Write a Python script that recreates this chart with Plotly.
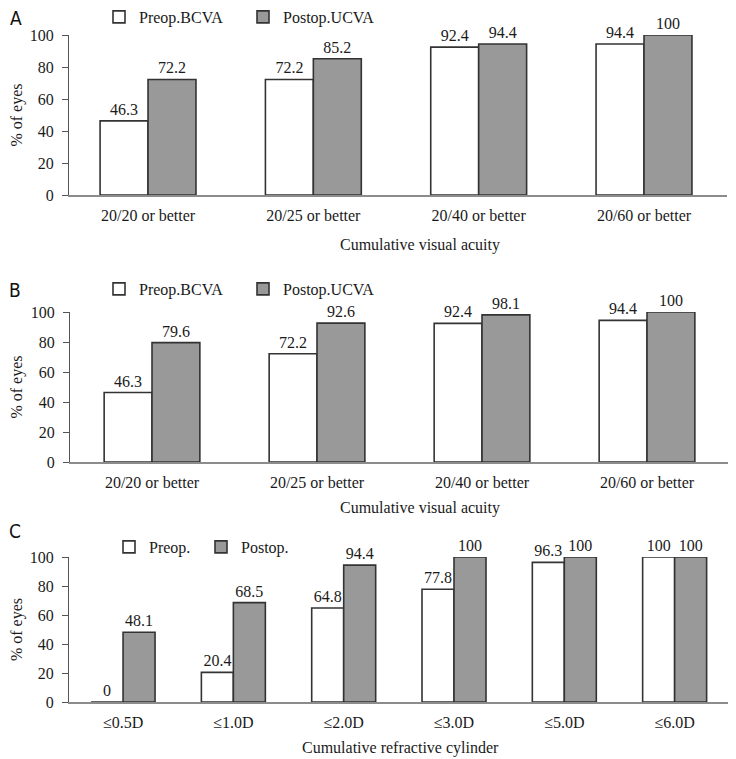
import plotly.graph_objects as go

# ---------------- data ----------------
cats_a = ["20/20 or better", "20/25 or better", "20/40 or better", "20/60 or better"]
preop_a = [46.3, 72.2, 92.4, 94.4]
postop_a = [72.2, 85.2, 94.4, 100]

cats_b = ["20/20 or better", "20/25 or better", "20/40 or better", "20/60 or better"]
preop_b = [46.3, 72.2, 92.4, 94.4]
postop_b = [79.6, 92.6, 98.1, 100]

cats_c = ["≤0.5D", "≤1.0D", "≤2.0D", "≤3.0D", "≤5.0D", "≤6.0D"]
preop_c = [0, 20.4, 64.8, 77.8, 96.3, 100]
postop_c = [48.1, 68.5, 94.4, 100, 100, 100]

y_ticks = [0, 20, 40, 60, 80, 100]

names_ab = ["Preop.BCVA", "Postop.UCVA"]
names_c = ["Preop.", "Postop."]
xtitle_ab = "Cumulative visual acuity"
xtitle_c = "Cumulative refractive cylinder"
ytitle = "% of eyes"
panel_letters = ["A", "B", "C"]

# ---------------- styling ----------------
OFF = 8  # default body margin of the html page
W, H = 736 - OFF, 759 - OFF
SERIF = "Liberation Serif, Times New Roman, serif"
COND = "DejaVu Sans Condensed, Liberation Sans Narrow, sans-serif"
TXT = "#1a1a1a"
FILL_PRE = "#ffffff"
FILL_POST = "#999999"
EDGE = "#333333"


def fx(px):
    return (px - OFF) / W


def fy(py):
    return 1 - (py - OFF) / H


# panel geometry in window pixels: (x0, x1, y_bottom, y_top, xrange)
panels = [
    (69, 727, 195, 35, [-0.478, 3.502]),
    (70, 730, 462, 312, [-0.497, 3.503]),
    (69, 732, 702, 557, [-0.49, 5.52]),
]

fig = go.Figure()

datasets = [
    (cats_a, preop_a, postop_a, names_ab, ""),
    (cats_b, preop_b, postop_b, names_ab, "2"),
    (cats_c, preop_c, postop_c, names_c, "3"),
]

for i, (cats, pre, post, names, sfx) in enumerate(datasets):
    legend_name = "legend" if sfx == "" else "legend" + sfx
    for vals, nm, col in [(pre, names[0], FILL_PRE), (post, names[1], FILL_POST)]:
        fig.add_trace(go.Bar(
            x=cats, y=vals, name=nm,
            marker=dict(color=col, line=dict(color=EDGE, width=1.6)),
            text=[f"{v:g}" for v in vals],
            textposition="outside",
            textfont=dict(family=SERIF, size=16, color=TXT),
            cliponaxis=False,
            xaxis="x" + sfx, yaxis="y" + sfx,
            legend=legend_name,
        ))

layout_kwargs = {}
legend_pos = [(99, 17), (99, 289), (109, 547)]
entry_w = [99, 99, 47]
for i, ((x0, x1, yb, yt, xr), sfx) in enumerate(zip(panels, ["", "2", "3"])):
    layout_kwargs["xaxis" + sfx] = dict(
        domain=[fx(x0), fx(x1)], anchor="y" + sfx, range=xr,
        showline=True, linecolor="#8c8c8c", linewidth=1.5,
        ticks="", showgrid=False, ticklabelstandoff=5,
        tickfont=dict(family=SERIF, size=16, color=TXT),
    )
    layout_kwargs["yaxis" + sfx] = dict(
        domain=[fy(yb), fy(yt)], anchor="x" + sfx,
        range=[0, 100], tickvals=y_ticks,
        showline=True, linecolor="#555555", linewidth=1.2,
        ticks="outside", ticklen=6, tickcolor="#555555",
        showgrid=False, zeroline=False, ticklabelstandoff=5,
        tickfont=dict(family=SERIF, size=16, color=TXT),
        title=dict(text=ytitle, font=dict(family=SERIF, size=16, color=TXT), standoff=4),
    )
    lx, ly = legend_pos[i]
    layout_kwargs["legend" if sfx == "" else "legend" + sfx] = dict(
        x=fx(lx), y=fy(ly), xanchor="left", yanchor="middle",
        orientation="h", bgcolor="rgba(0,0,0,0)",
        font=dict(family=SERIF, size=16, color=TXT),
        entrywidth=entry_w[i], itemwidth=30,
        traceorder="normal",
    )

annotations = []
letter_pos = [(16, 18), (15, 290), (15, 531)]
for letter, (px, py) in zip(panel_letters, letter_pos):
    annotations.append(dict(
        text=letter, x=fx(px), y=fy(py), xref="paper", yref="paper",
        showarrow=False, xanchor="center", yanchor="middle",
        font=dict(family=COND, size=19, color="#111111"),
    ))

xtitle_pos = [(xtitle_ab, 420, 245), (xtitle_ab, 420, 508), (xtitle_c, 400, 748)]
for txt, px, py in xtitle_pos:
    annotations.append(dict(
        text=txt, x=fx(px), y=fy(py), xref="paper", yref="paper",
        showarrow=False, xanchor="center", yanchor="middle",
        font=dict(family=SERIF, size=16, color=TXT),
    ))

fig.update_layout(
    width=W, height=H,
    margin=dict(l=0, r=0, t=0, b=0, autoexpand=False),
    paper_bgcolor="white", plot_bgcolor="white",
    barmode="group", bargap=0.42, bargroupgap=0,
    annotations=annotations,
    showlegend=True,
    **layout_kwargs,
)

fig.write_html("out.html")
